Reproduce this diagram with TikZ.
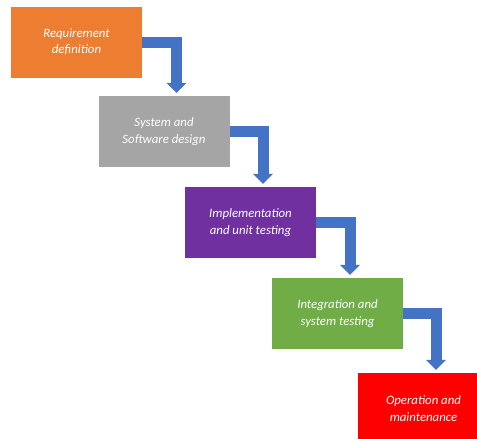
\documentclass[tikz,border=0pt]{standalone}
\usepackage{fontspec}
\setmainfont{Carlito}
\usepackage{tikz}
\usetikzlibrary{arrows.meta,positioning,calc}
\definecolor{naranja}{HTML}{ED7D31}
\definecolor{gris}{HTML}{A5A5A5}
\definecolor{morado}{HTML}{7030A0}
\definecolor{verde}{HTML}{70AD47}
\definecolor{rojo}{HTML}{FF0000}
\definecolor{azul}{HTML}{4472C4}
\begin{document}
\begin{tikzpicture}[x=1pt,y=-1pt,
  paso/.style={rectangle,minimum width=131pt,minimum height=71pt,inner sep=0pt,
    align=center,text=white,font=\itshape\fontsize{12.8}{16.5}\selectfont},
  flecha/.style={draw=azul,line width=11pt,line join=miter,
    -{Triangle[width=20pt,length=10pt,line width=0pt,fill=azul]}}]
\useasboundingbox (0,0) rectangle (477,439);
\foreach \i/\x/\y/\c/\t in {1/76.5/42/naranja/{Requirement\\definition},
    2/164/131.5/gris/{System and\\Software design},
    3/250.5/222.5/morado/{Implementation\\and unit testing},
    4/337.5/313.5/verde/{Integration and\\system testing},
    5/423.5/408.5/rojo/{Operation and\\maintenance}}{
  \node[paso,fill=\c] (b\i) at (\x,\y) {\t};
}
\foreach \i/\j in {1/2,2/3,3/4,4/5}{
  \draw[flecha] (b\i.east) -| ([xshift=12.5pt,yshift=3pt]b\j.north);
}
\end{tikzpicture}
\end{document}
